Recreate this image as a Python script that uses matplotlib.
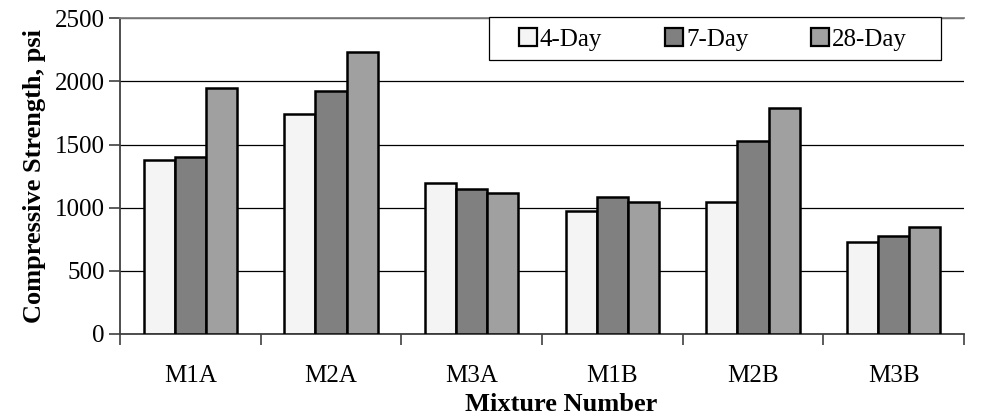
import matplotlib.pyplot as plt
from matplotlib.patches import Rectangle
import numpy as np

# compressive strength by mixture and curing age
mixtures = ["M1A", "M2A", "M3A", "M1B", "M2B", "M3B"]
ages = ["4-Day", "7-Day", "28-Day"]
day4 = [1375, 1740, 1195, 975, 1045, 725]
day7 = [1405, 1925, 1145, 1085, 1525, 775]
day28 = [1945, 2230, 1120, 1045, 1790, 845]

colors = ["#f4f4f4", "#808080", "#a0a0a0"]

plt.rcParams["font.family"] = ["Liberation Serif", "DejaVu Serif"]

W, H = 993, 420
fig = plt.figure(figsize=(W / 100, H / 100), dpi=100)
ax = fig.add_axes([120 / W, 1 - 334 / H, 844 / W, (334 - 18.3) / H])

x = np.arange(len(mixtures))
w = 0.221
for i, (vals, lab, c) in enumerate(zip([day4, day7, day28], ages, colors)):
    ax.bar(x + (i - 1) * w, vals, w, color=c, edgecolor="black",
           linewidth=1.8, label=lab, zorder=3)

ax.set_xlim(-0.5, len(mixtures) - 0.5)
ax.set_ylim(0, 2500)
ax.set_yticks(np.arange(0, 2501, 500))
ax.yaxis.grid(True, color="black", linewidth=0.9, zorder=0)
ax.set_axisbelow(True)

# labels centred on groups, tick marks between groups
ax.set_xticks(x)
ax.set_xticklabels(mixtures)
ax.set_xticks(np.arange(-0.5, len(mixtures)), minor=True)
ax.tick_params(axis="x", which="major", length=0, pad=22, labelsize=18)
ax.tick_params(axis="x", which="minor", length=8, width=1.2, color="#404040")
ax.tick_params(axis="y", length=8, width=1.2, color="#404040", pad=3, labelsize=18)

for s in ["left", "bottom"]:
    ax.spines[s].set_color("#404040")
    ax.spines[s].set_linewidth(1.3)
ax.spines["right"].set_visible(False)
ax.spines["top"].set_color("#808080")
ax.spines["top"].set_linewidth(1.3)

ax.set_xlabel("Mixture Number", fontsize=19, fontweight="bold")
ax.xaxis.set_label_coords(0.523, -0.187)
ax.set_ylabel("Compressive Strength, psi", fontsize=19, fontweight="bold", labelpad=6)

# legend box drawn separately so its padding can differ per side
box = Rectangle((489.3 / W, 1 - 60 / H), (941 - 489.3) / W, 43.3 / H,
                transform=fig.transFigure, facecolor="white", edgecolor="black",
                linewidth=0.9, zorder=5)
fig.patches.append(box)

leg = fig.legend(loc="center left", ncol=3, fontsize=18,
                 bbox_to_anchor=(519 / W, 1 - 39.5 / H),
                 bbox_transform=fig.transFigure, frameon=False,
                 handlelength=0.72, handleheight=0.72, handletextpad=0.12,
                 columnspacing=2.5, borderpad=0, borderaxespad=0)
leg.set_zorder(6)
for h in leg.legend_handles:
    h.set_linewidth(1.6)

fig.savefig("out.png", dpi=100)
